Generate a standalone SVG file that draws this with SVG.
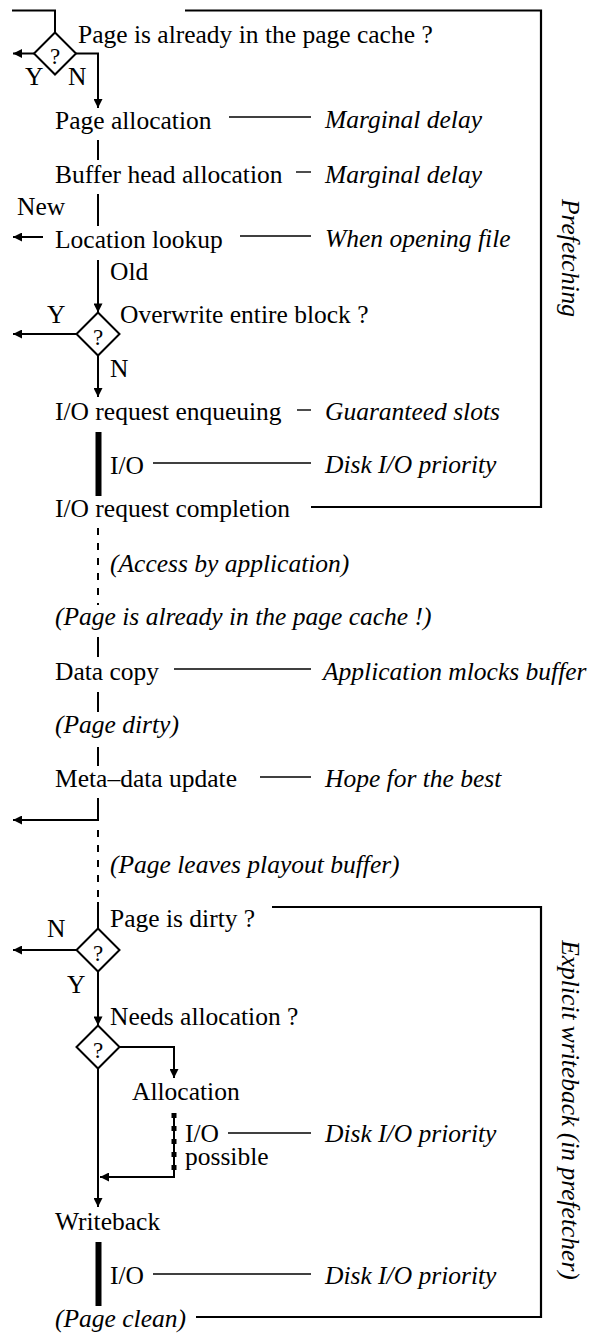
<svg xmlns="http://www.w3.org/2000/svg" width="595" height="1334" viewBox="0 0 595 1334">
<style>
text{font-family:"Liberation Serif","Times New Roman",serif;font-size:25.5px;fill:#000}
.i{font-style:italic}
.q{font-size:23px;text-anchor:middle}
.f{fill:none;stroke:#000;stroke-width:2}
.a{fill:none;stroke:#000;stroke-width:1.4}
.b{fill:none;stroke:#000;stroke-width:2.2}
.d{fill:#fff;stroke:#000;stroke-width:2}
.dash{fill:none;stroke:#000;stroke-width:2;stroke-dasharray:7 8}
.bar{fill:none;stroke:#000;stroke-width:6}
</style>
<defs>
<marker id="ah" viewBox="0 0 10 10" refX="10" refY="5" markerWidth="10" markerHeight="9" markerUnits="userSpaceOnUse" orient="auto">
<path d="M0,0 L10,5 L0,10 z" fill="#000"/>
</marker>
</defs>

<g id="boxes">
<path class="b" d="M185,10.5 H541 V507 H311"/>
<path class="b" d="M272,907 H541 V1317 H196"/>
<text class="i" transform="translate(562,258) rotate(90)" text-anchor="middle">Prefetching</text>
<text class="i" transform="translate(562,1110) rotate(90)" text-anchor="middle">Explicit writeback (in prefetcher)</text>
</g>

<g id="connectors">
<path class="f" d="M12,10.5 H55 V32.5"/>
<path class="f" d="M34,53.5 H13" marker-end="url(#ah)"/>
<path class="f" d="M76,53.5 H98 V108" marker-end="url(#ah)"/>
<path class="f" d="M98,140 V160"/>
<path class="f" d="M98,194 V226"/>
<path class="f" d="M43,237 H13" marker-end="url(#ah)"/>
<path class="f" d="M98,260 V312.5" marker-end="url(#ah)"/>
<path class="f" d="M76.5,334 H13" marker-end="url(#ah)"/>
<path class="f" d="M98,355.5 V397" marker-end="url(#ah)"/>
<path class="bar" d="M98.5,432 V496"/>
<path class="dash" d="M98,528 V605"/>
<path class="f" d="M98,637 V657"/>
<path class="f" d="M98,692 V712"/>
<path class="f" d="M98,747 V766"/>
<path class="f" d="M98,798 V820 H13" marker-end="url(#ah)"/>
<path class="dash" d="M98,830 V900"/>
<path class="f" d="M98,902 V928.5"/>
<path class="f" d="M76.5,950 H13" marker-end="url(#ah)"/>
<path class="f" d="M98,971.5 V1025.5" marker-end="url(#ah)"/>
<path class="f" d="M119.5,1047 H174 V1078" marker-end="url(#ah)"/>
<path class="f" d="M98,1068.5 V1207" marker-end="url(#ah)"/>
<path class="f" d="M174,1113 V1177 H100" marker-end="url(#ah)"/>
<path fill="none" stroke="#000" stroke-width="5" stroke-dasharray="5 8" d="M174,1113 V1172"/>
<path class="bar" d="M98.5,1242 V1306"/>
<path class="a" d="M229,117 H311"/>
<path class="a" d="M296,172 H311"/>
<path class="a" d="M240,236 H311"/>
<path class="a" d="M297,410 H311"/>
<path class="a" d="M153,463 H311"/>
<path class="a" d="M174,669 H311"/>
<path class="a" d="M260,777 H311"/>
<path class="a" d="M228,1133 H311"/>
<path class="a" d="M153,1274 H311"/>
</g>

<g id="n-cache">
<path class="d" d="M55,32.5 L76,53.5 L55,74.5 L34,53.5 z"/>
<text class="q" x="55" y="64">?</text>
<text x="78" y="43">Page is already in the page cache ?</text>
<text x="25" y="85">Y</text>
<text x="68" y="85">N</text>
</g>
<g id="n-pagealloc">
<text x="55" y="129">Page allocation</text>
<text class="i" x="325" y="128">Marginal delay</text>
</g>
<g id="n-bufhead">
<text x="55" y="183">Buffer head allocation</text>
<text class="i" x="325" y="183">Marginal delay</text>
</g>
<g id="n-location">
<text x="17" y="215">New</text>
<text x="55" y="248">Location lookup</text>
<text class="i" x="325" y="247">When opening file</text>
<text x="110" y="280">Old</text>
</g>
<g id="n-overwrite">
<path class="d" d="M98,312.5 L119.5,334 L98,355.5 L76.5,334 z"/>
<text class="q" x="98" y="345">?</text>
<text x="120" y="323">Overwrite entire block ?</text>
<text x="47" y="323">Y</text>
<text x="110" y="377">N</text>
</g>
<g id="n-enqueue">
<text x="55" y="420">I/O request enqueuing</text>
<text class="i" x="325" y="420">Guaranteed slots</text>
</g>
<g id="n-io1">
<text x="110" y="474">I/O</text>
<text class="i" x="325" y="473">Disk I/O priority</text>
</g>
<g id="n-completion">
<text x="55" y="517">I/O request completion</text>
</g>
<g id="n-access">
<text class="i" x="110" y="572">(Access by application)</text>
</g>
<g id="n-incache">
<text class="i" x="55" y="625">(Page is already in the page cache !)</text>
</g>
<g id="n-datacopy">
<text x="55" y="680">Data copy</text>
<text class="i" x="323" y="680">Application mlocks buffer</text>
</g>
<g id="n-dirty">
<text class="i" x="55" y="733">(Page dirty)</text>
</g>
<g id="n-meta">
<text x="55" y="787">Meta–data update</text>
<text class="i" x="325" y="787">Hope for the best</text>
</g>
<g id="n-leaves">
<text class="i" x="110" y="873">(Page leaves playout buffer)</text>
</g>
<g id="n-isdirty">
<path class="d" d="M98,928.5 L119.5,950 L98,971.5 L76.5,950 z"/>
<text class="q" x="98" y="961">?</text>
<text x="110" y="927">Page is dirty ?</text>
<text x="47" y="937">N</text>
<text x="67" y="993">Y</text>
</g>
<g id="n-needsalloc">
<path class="d" d="M98,1025.5 L119.5,1047 L98,1068.5 L76.5,1047 z"/>
<text class="q" x="98" y="1058">?</text>
<text x="110" y="1025">Needs allocation ?</text>
</g>
<g id="n-allocation">
<text x="132" y="1100">Allocation</text>
</g>
<g id="n-iopossible">
<text x="185" y="1142">I/O<tspan x="185" dy="23">possible</tspan></text>
<text class="i" x="325" y="1142">Disk I/O priority</text>
</g>
<g id="n-writeback">
<text x="55" y="1230">Writeback</text>
</g>
<g id="n-io2">
<text x="110" y="1284">I/O</text>
<text class="i" x="325" y="1284">Disk I/O priority</text>
</g>
<g id="n-clean">
<text class="i" x="55" y="1327">(Page clean)</text>
</g>
</svg>
